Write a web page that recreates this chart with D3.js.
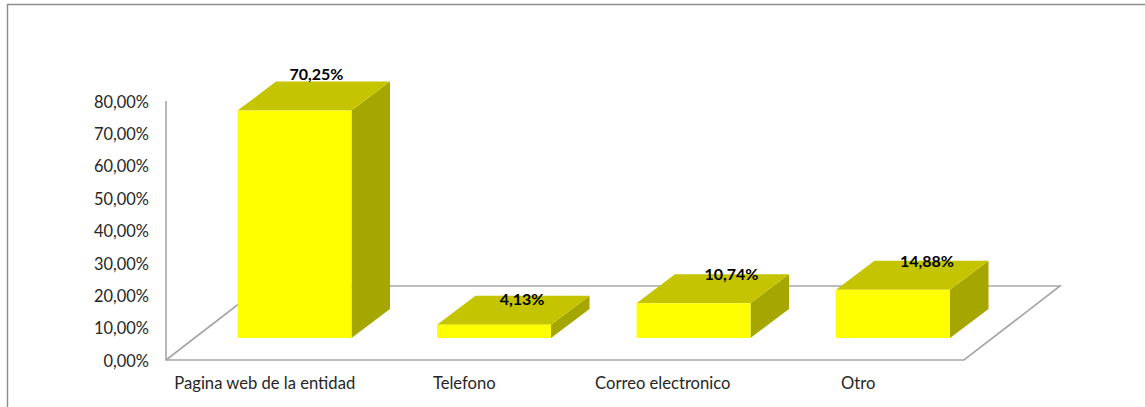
<!DOCTYPE html>
<html><head><meta charset="utf-8">
<style>html,body{margin:0;padding:0;background:#fff;overflow:hidden}svg{display:block}text{font-family:Lato,"Open Sans",sans-serif}</style>
<script src="https://cdnjs.cloudflare.com/ajax/libs/d3/7.8.5/d3.min.js"></script>
</head><body><svg id="c" width="1145" height="407"></svg>
<script>
const categories = ["Pagina web de la entidad","Telefono","Correo electronico","Otro"];
const values = [70.25,4.13,10.74,14.88];
const valueLabels = ["70,25%","4,13%","10,74%","14,88%"];
const yTicks = [0,10,20,30,40,50,60,70,80];
const yTickLabels = ["0,00%","10,00%","20,00%","30,00%","40,00%","50,00%","60,00%","70,00%","80,00%"];

const W=1145,H=407;
const floorY=360, topY=101, x0=166, x1=964;
const dx=38.5, dy=29;          // bar depth
const fdx=96, fdy=74;          // floor depth
const barBase=338;
const y=d3.scaleLinear().domain([0,80]).range([floorY,topY]);
const h=v=>floorY-y(v);
const xCat=d3.scaleBand().domain(categories).range([x0,x1]);
const xBar=d3.scaleBand().domain(categories).range([x0+28.75,x1+28.75]).paddingInner(0.4286).paddingOuter(0.2143);
const labelNudge=[[79,-36],[85,-25],[95,-29],[91,-28]];
const catNudge=[-1,-1,-2,-6];

const svg=d3.select("#c");
const line="#a6a6a6";
// frame
svg.append("path").attr("d",`M7.5,407V4.5H${W}`).attr("fill","none").attr("stroke","#8c8c8c").attr("stroke-width",1.4);
// floor + wall
svg.append("path").attr("d",`M${x0},${topY}V${floorY}H${x1}L${x1+fdx},${floorY-fdy}H${x0+fdx}L${x0},${floorY}`)
  .attr("fill","none").attr("stroke",line).attr("stroke-width",1.6);

// y axis labels via d3 axis
const axis=d3.axisLeft(y).tickValues(yTicks).tickFormat((d,i)=>yTickLabels[i]).tickSize(0).tickPadding(0);
const ag=svg.append("g").attr("transform","translate(149,0)").call(axis);
ag.select(".domain").remove();
ag.selectAll("text").attr("font-size",16.4).attr("fill","#262626").attr("font-family","Lato").attr("dy","0.38em");

// bars
const g=svg.selectAll("g.bar").data(categories.map((c,i)=>({c,v:values[i],l:valueLabels[i],i}))).enter().append("g").attr("class","bar");
g.each(function(d){
  const s=d3.select(this), L=xBar(d.c), R=L+xBar.bandwidth(), B=barBase, T=barBase-h(d.v);
  s.append("path").attr("fill","#a6a600").attr("d",`M${R},${B}L${R+dx},${B-dy}V${T-dy}L${R},${T}Z`);
  s.append("path").attr("fill","#c4c400").attr("d",`M${L},${T}L${L+dx},${T-dy}H${R+dx}L${R},${T}Z`);
  s.append("rect").attr("x",L).attr("y",T).attr("width",R-L).attr("height",B-T).attr("fill","#ffff00");
  s.append("text").attr("x",L+labelNudge[d.i][0]).attr("y",T+labelNudge[d.i][1]).attr("dy","0.35em")
    .attr("text-anchor","middle").attr("font-size",16).attr("font-weight",700).attr("fill","#000").text(d.l);
  svg.append("text").attr("x",xCat(d.c)+xCat.bandwidth()/2+catNudge[d.i]).attr("y",383).attr("dy","0.35em")
    .attr("text-anchor","middle").attr("font-size",16.6).attr("fill","#262626").text(d.c);
});
</script></body></html>
